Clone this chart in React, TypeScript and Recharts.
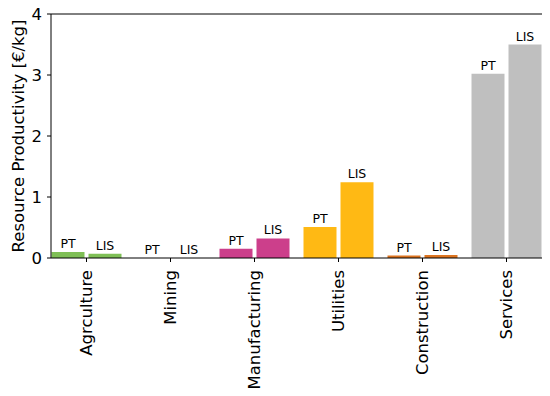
import { BarChart, Bar, XAxis, YAxis, Cell, LabelList, ReferenceLine } from "recharts";

const sectors = ["Agrculture", "Mining", "Manufacturing", "Utilities", "Construction", "Services"];
const ptValues = [0.1, 0.002, 0.15, 0.51, 0.04, 3.02];
const lisValues = [0.07, 0.002, 0.32, 1.24, 0.05, 3.5];
const colors = ["#7fbf56", "#7fbf56", "#cc3f8b", "#ffb914", "#dc7420", "#bfbfbf"];
const yTicks = [0, 1, 2, 3, 4];

const data = sectors.map((s, i) => ({ sector: s, pt: ptValues[i], lis: lisValues[i] }));

const font = "DejaVu Sans, sans-serif";

const SectorTick = (props: any) => {
  const { x, y, payload } = props;
  return (
    <text
      x={x}
      y={y}
      transform={`rotate(-90, ${x}, ${y})`}
      textAnchor="end"
      dy="0.35em"
      fontSize={16.5}
      fontFamily={font}
      fill="#000"
    >
      {payload.value}
    </text>
  );
};

const barLabel = (name: string) => (p: any) => (
  <text
    x={p.x + p.width / 2}
    y={p.y - 4}
    textAnchor="middle"
    fontSize={12.5}
    fontFamily={font}
    fill="#000"
  >
    {name}
  </text>
);

const App = () => {
  return (
    <div style={{ width: 550, height: 396 }}>
      <style>{`body{margin:0}`}</style>
      <BarChart
        width={550}
        height={396}
        data={data}
        margin={{ top: 14, right: 8, bottom: 0, left: 11 }}
        barSize={33}
        barGap={4}
      >
        <XAxis
          dataKey="sector"
          height={138}
          padding={{ left: -6.5, right: -6.5 }}
          tick={<SectorTick />}
          tickSize={4}
          tickMargin={8}
          interval={0}
          axisLine={{ stroke: "#000" }}
          tickLine={{ stroke: "#000" }}
        />
        <YAxis
          domain={[0, 4]}
          ticks={yTicks}
          width={40}
          tickSize={4}
          tickMargin={5}
          tick={{ fill: "#000", fontSize: 16.5, fontFamily: font }}
          axisLine={{ stroke: "#000" }}
          tickLine={{ stroke: "#000" }}
          label={{
            value: "Resource Productivity [€/kg]",
            angle: -90,
            position: "center",
            dx: -13,
            fontSize: 16.5,
            fontFamily: font,
            fill: "#000",
          }}
        />
        <YAxis
          yAxisId="right"
          orientation="right"
          domain={[0, 4]}
          width={0}
          tick={false}
          tickLine={false}
          axisLine={{ stroke: "#000" }}
        />
        <ReferenceLine y={4} stroke="#000" ifOverflow="visible" />
        <Bar dataKey="pt" isAnimationActive={false}>
          {data.map((d, i) => (
            <Cell key={d.sector} fill={colors[i]} />
          ))}
          <LabelList position="top" content={barLabel("PT")} />
        </Bar>
        <Bar dataKey="lis" isAnimationActive={false}>
          {data.map((d, i) => (
            <Cell key={d.sector} fill={colors[i]} />
          ))}
          <LabelList position="top" content={barLabel("LIS")} />
        </Bar>
      </BarChart>
    </div>
  );
};

export default App;
